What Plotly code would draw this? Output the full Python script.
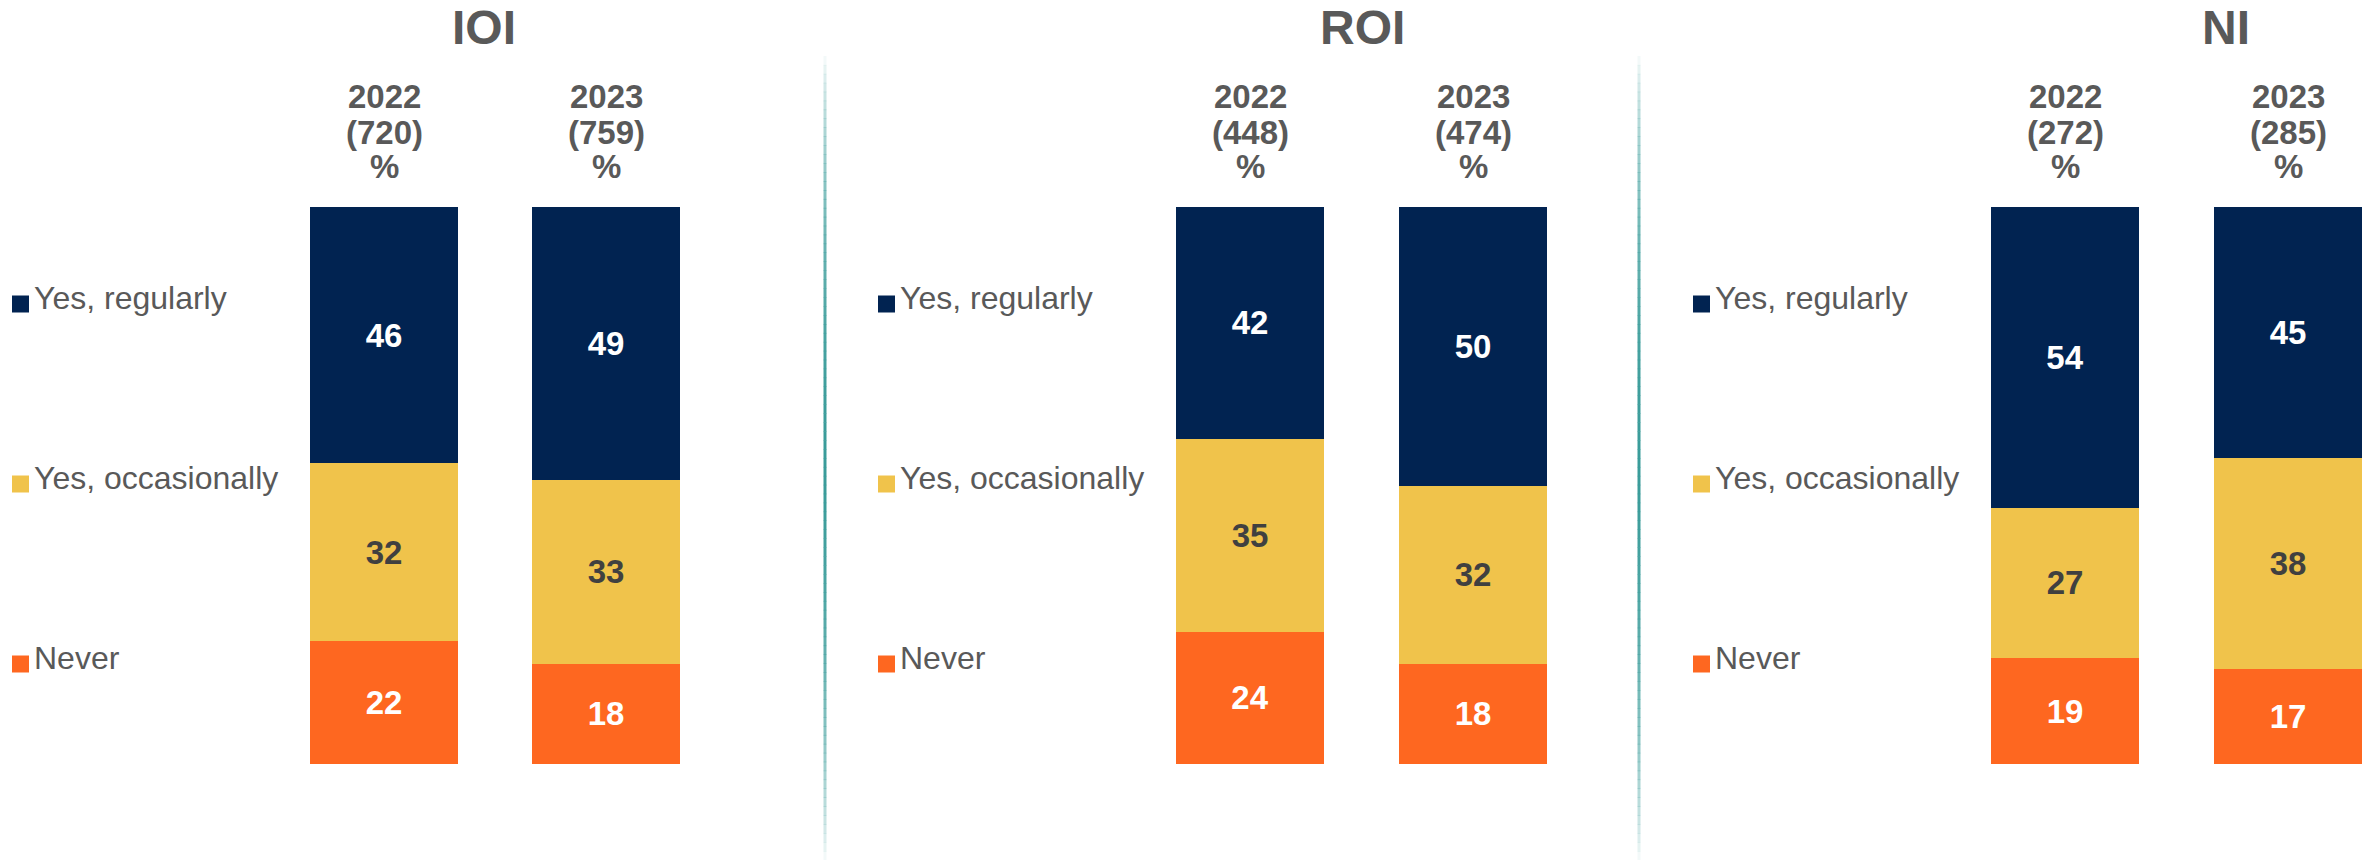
import math
import plotly.graph_objects as go

# ---- data -------------------------------------------------------------
regions = ["IOI", "ROI", "NI"]
years = ["2022", "2023"]
series_names = ["Yes, regularly", "Yes, occasionally", "Never"]

ioi_base = [720, 759]
roi_base = [448, 474]
ni_base = [272, 285]

ioi_regularly = [46, 49]
ioi_occasionally = [32, 33]
ioi_never = [22, 18]

roi_regularly = [42, 50]
roi_occasionally = [35, 32]
roi_never = [24, 18]

ni_regularly = [54, 45]
ni_occasionally = [27, 38]
ni_never = [19, 17]

# ---- styling ------------------------------------------------------------
W, H = 2364, 860
FONT = "Arial, Liberation Sans, sans-serif"
GREY = "#595959"
series_colors = {"Yes, regularly": "#012351",
                 "Yes, occasionally": "#F0C34B",
                 "Never": "#FE6720"}
label_colors = {"Yes, regularly": "white",
                "Yes, occasionally": "#404040",
                "Never": "white"}


def fx(p):
    return p / W


def fy(p):
    return 1 - p / H


# panel geometry in pixels: first bar centre, bar pitch, legend left edge,
# title centre x and title box top
panel_geom = [
    dict(c0=384, pitch=222, leg=12, title_x=484, title_top=0),
    dict(c0=1250, pitch=223, leg=878, title_x=1362, title_top=0),
    dict(c0=2065, pitch=223, leg=1693, title_x=2226, title_top=0),
]
BAR_TOP, BAR_BOTTOM = 207, 764
BAR_W = 148

panel_data = [
    (ioi_base, {"Yes, regularly": ioi_regularly,
                "Yes, occasionally": ioi_occasionally,
                "Never": ioi_never}),
    (roi_base, {"Yes, regularly": roi_regularly,
                "Yes, occasionally": roi_occasionally,
                "Never": roi_never}),
    (ni_base, {"Yes, regularly": ni_regularly,
               "Yes, occasionally": ni_occasionally,
               "Never": ni_never}),
]

fig = go.Figure()
annotations = []
shapes = []
layout_axes = {}

for i, (region, geom, (bases, values)) in enumerate(zip(regions, panel_geom, panel_data)):
    suffix = "" if i == 0 else str(i + 1)
    xa, ya = "x" + suffix, "y" + suffix

    # stacked from the bottom: Never, occasionally, regularly
    for name in reversed(series_names):
        fig.add_trace(go.Bar(
            x=years, y=values[name], text=values[name],
            texttemplate="<b>%{text}</b>",
            textposition="inside", insidetextanchor="middle", textangle=0,
            textfont=dict(family=FONT, size=33, color=label_colors[name]),
            marker=dict(color=series_colors[name], line=dict(width=0)),
            name=name, showlegend=False, xaxis=xa, yaxis=ya,
            hovertemplate=region + " %{x}<br>" + name + ": %{text}%<extra></extra>",
        ))

    left = geom["c0"] - geom["pitch"] / 2
    right = min(geom["c0"] + 1.5 * geom["pitch"], W)
    layout_axes["xaxis" + suffix] = dict(
        domain=[fx(left), fx(right)],
        range=[-0.5, -0.5 + (right - left) / geom["pitch"]],
        type="category", visible=False, anchor=ya, fixedrange=True)
    layout_axes["yaxis" + suffix] = dict(
        domain=[fy(BAR_BOTTOM), fy(BAR_TOP)], range=[0, 100],
        visible=False, anchor=xa, fixedrange=True)

    # region title
    annotations.append(dict(
        text="<b>%s</b>" % region, x=fx(geom["title_x"]), y=fy(geom["title_top"]),
        xref="paper", yref="paper", xanchor="center", yanchor="top",
        showarrow=False, borderpad=0,
        font=dict(family=FONT, size=48, color=GREY)))

    # column headers: year, base size, %  (category index used for x)
    for j, (yr, n) in enumerate(zip(years, bases)):
        for line, ypix in zip([yr, "(%d)" % n, "%"], [96, 132, 167]):
            annotations.append(dict(
                text="<b>%s</b>" % line, x=j, xref=xa, y=fy(ypix), yref="paper",
                xanchor="center", yanchor="middle", showarrow=False,
                font=dict(family=FONT, size=33, color=GREY)))

    # legend: coloured square + label per series
    for k, name in enumerate(series_names):
        cy = 304 + 180 * k
        shapes.append(dict(
            type="rect", xref="paper", yref="paper",
            x0=fx(geom["leg"]), x1=fx(geom["leg"] + 17),
            y0=fy(cy + 8.5), y1=fy(cy - 8.5),
            fillcolor=series_colors[name], line=dict(width=0)))
        annotations.append(dict(
            text=name, x=fx(geom["leg"] + 20), y=fy(cy - 6),
            xref="paper", yref="paper", xanchor="left", yanchor="middle",
            showarrow=False, font=dict(family=FONT, size=32, color=GREY)))

# teal dividers between panels, fading out at both ends
for xpix in [825, 1639]:
    top, bottom, n = 56, 860, 90
    step = (bottom - top) / n
    for s in range(n):
        t = (s + 0.5) / n
        alpha = math.sin(math.pi * t) ** 0.7
        shapes.append(dict(
            type="line", xref="paper", yref="paper",
            x0=fx(xpix), x1=fx(xpix),
            y0=fy(top + s * step), y1=fy(top + (s + 1) * step + 0.5),
            line=dict(color="rgba(58,156,154,%.3f)" % alpha, width=3)))

fig.update_layout(
    width=W, height=H,
    margin=dict(l=0, r=0, t=0, b=0),
    paper_bgcolor="white", plot_bgcolor="white",
    barmode="stack", barnorm="percent",
    bargap=1 - BAR_W / 222.5,
    showlegend=False,
    annotations=annotations, shapes=shapes,
    font=dict(family=FONT, color=GREY),
    **layout_axes,
)

fig.write_html("out.html")
